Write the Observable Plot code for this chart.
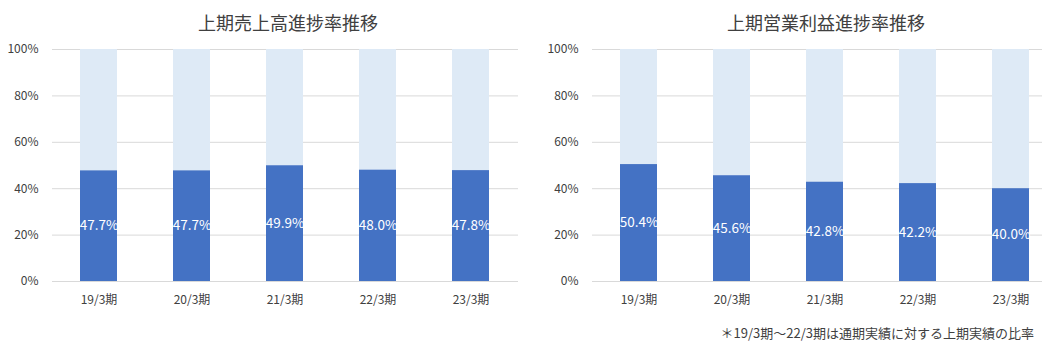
<!DOCTYPE html>
<html>
<head>
<meta charset="utf-8">
<script src="https://cdn.jsdelivr.net/npm/d3@7"></script>
<script src="https://cdn.jsdelivr.net/npm/@observablehq/plot@0.6"></script>
<style>
  html, body { margin: 0; padding: 0; background: #fff; overflow: hidden; }
  #wrap { position: relative; width: 1042px; height: 358px; overflow: hidden;
          font-family: "Noto Sans CJK JP", "Noto Sans", sans-serif; }
  .title { position: absolute; top: 9px; font-size: 18px; color: #404040; white-space: nowrap;
           transform: translateX(-50%); line-height: 26px; }
  .panel { position: absolute; top: 35px; width: 521px; height: 285px; }
  .panel svg { max-width: none !important; }
  .note { position: absolute; right: 8px; top: 323px; font-size: 13px; color: #404040; white-space: nowrap; line-height: 20px; }
</style>
</head>
<body>
<div id="wrap">
  <div class="title" id="t1" style="left:288px"></div>
  <div class="title" id="t2" style="left:826px"></div>
  <div class="panel" id="p1" style="left:0px"></div>
  <div class="panel" id="p2" style="left:540px"></div>
  <div class="note" id="note"></div>
</div>
<script>
const periods = ["19/3期", "20/3期", "21/3期", "22/3期", "23/3期"];
const salesRate = [0.477, 0.477, 0.499, 0.480, 0.478];
const profitRate = [0.504, 0.456, 0.428, 0.422, 0.400];
const yTicks = [0, 0.2, 0.4, 0.6, 0.8, 1.0];
const titles = ["上期売上高進捗率推移", "上期営業利益進捗率推移"];
const footnote = "＊19/3期～22/3期は通期実績に対する上期実績の比率";

document.getElementById("t1").textContent = titles[0];
document.getElementById("t2").textContent = titles[1];
document.getElementById("note").textContent = footnote;

function panel(values) {
  const rows = periods.map((p, i) => ({period: p, v: values[i]}));
  return Plot.plot({
    width: 521,
    height: 285,
    marginTop: 14,
    marginBottom: 39,
    marginLeft: 52,
    marginRight: 3,
    style: {fontFamily: '"Noto Sans CJK JP", "Noto Sans", sans-serif', fontSize: "12px", color: "#404040", background: "transparent", maxWidth: "none"},
    x: {domain: periods, paddingInner: 0.6, paddingOuter: 0.3, label: null},
    y: {domain: [0, 1], label: null},
    marks: [
      Plot.ruleY(yTicks, {stroke: "#d9d9d9", strokeWidth: 1}),
      Plot.barY(rows, {x: "period", y1: "v", y2: 1, fill: "#DEEAF6"}),
      Plot.barY(rows, {x: "period", y1: 0, y2: "v", fill: "#4472C4"}),
      Plot.text(rows, {x: "period", y: d => d.v / 2, text: d => (d.v * 100).toFixed(1) + "%", fill: "white", fontSize: 13.5}),
      Plot.axisY({ticks: yTicks, tickFormat: d => Math.round(d * 100) + "%", tickSize: 0, tickPadding: 14, fontSize: 12, color: "#404040"}),
      Plot.axisX({tickSize: 0, tickPadding: 14, fontSize: 12, color: "#404040"})
    ]
  });
}
document.getElementById("p1").appendChild(panel(salesRate));
document.getElementById("p2").appendChild(panel(profitRate));
</script>
</body>
</html>
